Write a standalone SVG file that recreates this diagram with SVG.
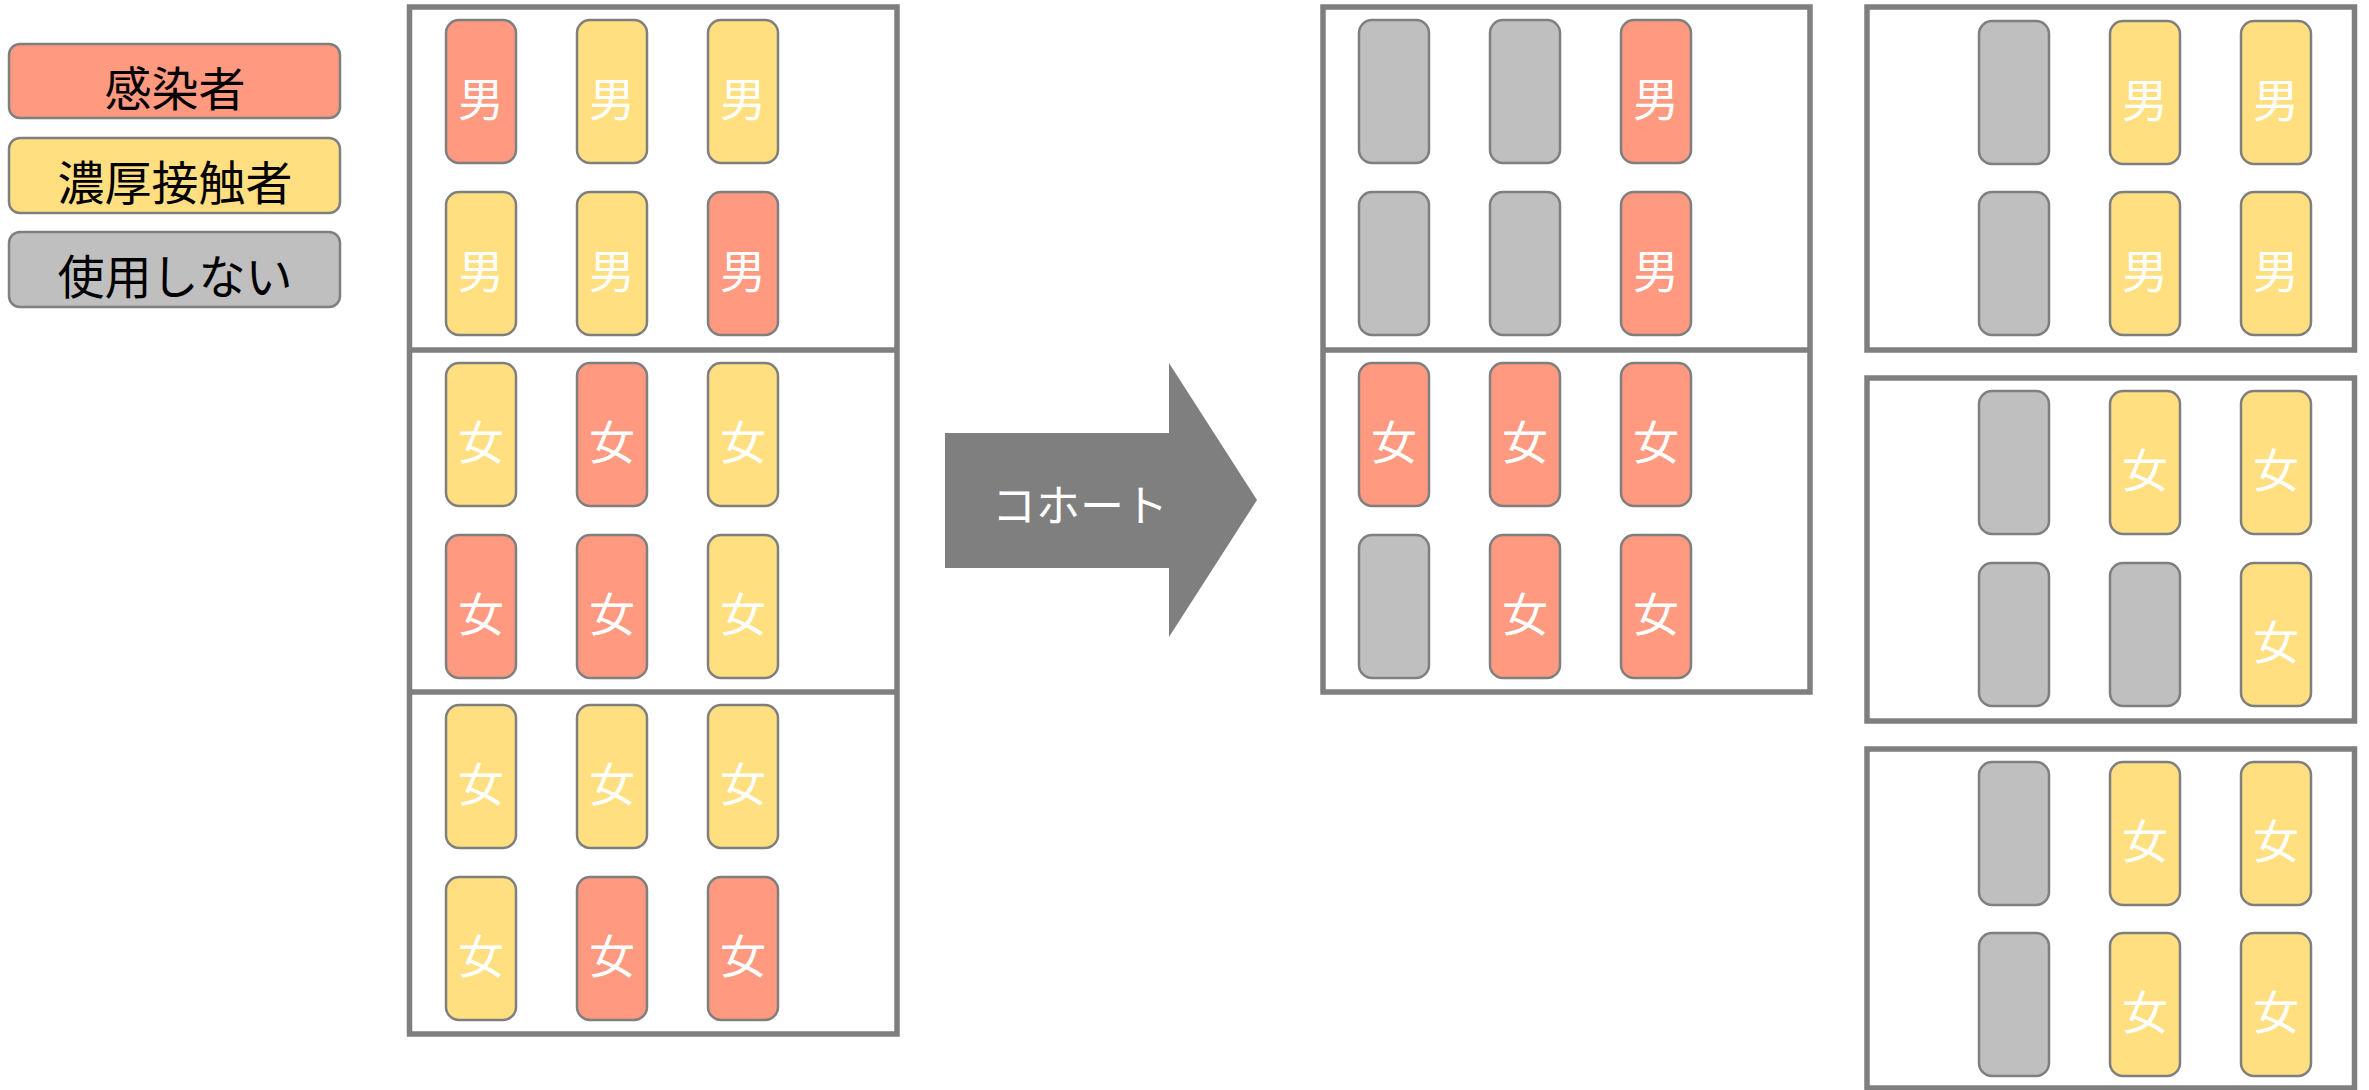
<svg xmlns="http://www.w3.org/2000/svg" width="2369" height="1090" viewBox="0 0 2369 1090">
<style>
.panel{fill:#ffffff;stroke:#7f7f7f;stroke-width:5.5}
.div{stroke:#7f7f7f;stroke-width:5.5}
.card{stroke:#7f7f7f;stroke-width:2.5}
.r{fill:#ff9980}
.y{fill:#ffdf80}
.g{fill:#bfbfbf}
.lbl{font-family:"Noto Sans CJK JP","Noto Sans",sans-serif;font-size:46px;fill:#ffffff;text-anchor:middle;dominant-baseline:central}
.leg{font-family:"Noto Sans CJK JP","Noto Sans",sans-serif;font-size:47px;fill:#000000;text-anchor:middle;dominant-baseline:central}
.arr{font-family:"Noto Sans CJK JP","Noto Sans",sans-serif;font-size:44px;fill:#ffffff;text-anchor:middle;dominant-baseline:central}
</style>
<defs>
<rect id="c" width="70" height="143" rx="13"/>
</defs>

<g id="legend">
<g id="legend-infected"><rect class="card r" x="9" y="44" width="331" height="74" rx="11"/><text class="leg" x="175" y="85">感染者</text></g>
<g id="legend-contact"><rect class="card y" x="9" y="138" width="331" height="75" rx="11"/><text class="leg" x="175" y="179">濃厚接触者</text></g>
<g id="legend-unused"><rect class="card g" x="9" y="232" width="331" height="75" rx="11"/><text class="leg" x="175" y="273">使用しない</text></g>
</g>

<g id="left-panel">
<rect class="panel" x="409.5" y="7" width="487.5" height="1027"/>
<line class="div" x1="409.5" y1="350" x2="897" y2="350"/>
<line class="div" x1="409.5" y1="692" x2="897" y2="692"/>
<g id="L1">
<use href="#c" class="card r" x="446" y="20"/><text class="lbl" x="481" y="96">男</text>
<use href="#c" class="card y" x="577" y="20"/><text class="lbl" x="612" y="96">男</text>
<use href="#c" class="card y" x="708" y="20"/><text class="lbl" x="743" y="96">男</text>
<use href="#c" class="card y" x="446" y="192"/><text class="lbl" x="481" y="268">男</text>
<use href="#c" class="card y" x="577" y="192"/><text class="lbl" x="612" y="268">男</text>
<use href="#c" class="card r" x="708" y="192"/><text class="lbl" x="743" y="268">男</text>
</g>
<g id="L2">
<use href="#c" class="card y" x="446" y="363"/><text class="lbl" x="481" y="439">女</text>
<use href="#c" class="card r" x="577" y="363"/><text class="lbl" x="612" y="439">女</text>
<use href="#c" class="card y" x="708" y="363"/><text class="lbl" x="743" y="439">女</text>
<use href="#c" class="card r" x="446" y="535"/><text class="lbl" x="481" y="611">女</text>
<use href="#c" class="card r" x="577" y="535"/><text class="lbl" x="612" y="611">女</text>
<use href="#c" class="card y" x="708" y="535"/><text class="lbl" x="743" y="611">女</text>
</g>
<g id="L3">
<use href="#c" class="card y" x="446" y="705"/><text class="lbl" x="481" y="781">女</text>
<use href="#c" class="card y" x="577" y="705"/><text class="lbl" x="612" y="781">女</text>
<use href="#c" class="card y" x="708" y="705"/><text class="lbl" x="743" y="781">女</text>
<use href="#c" class="card y" x="446" y="877"/><text class="lbl" x="481" y="953">女</text>
<use href="#c" class="card r" x="577" y="877"/><text class="lbl" x="612" y="953">女</text>
<use href="#c" class="card r" x="708" y="877"/><text class="lbl" x="743" y="953">女</text>
</g>
</g>

<g id="connectors">
<g id="cohort-arrow">
<polygon points="945,433 1169,433 1169,363 1257,500 1169,637 1169,568 945,568" fill="#7f7f7f"/>
<text class="arr" x="1080" y="503">コホート</text>
</g>
</g>

<g id="middle-panel">
<rect class="panel" x="1323" y="7" width="487" height="685"/>
<line class="div" x1="1323" y1="350" x2="1810" y2="350"/>
<g id="M1">
<use href="#c" class="card g" x="1359" y="20"/>
<use href="#c" class="card g" x="1490" y="20"/>
<use href="#c" class="card r" x="1621" y="20"/><text class="lbl" x="1656" y="96">男</text>
<use href="#c" class="card g" x="1359" y="192"/>
<use href="#c" class="card g" x="1490" y="192"/>
<use href="#c" class="card r" x="1621" y="192"/><text class="lbl" x="1656" y="268">男</text>
</g>
<g id="M2">
<use href="#c" class="card r" x="1359" y="363"/><text class="lbl" x="1394" y="439">女</text>
<use href="#c" class="card r" x="1490" y="363"/><text class="lbl" x="1525" y="439">女</text>
<use href="#c" class="card r" x="1621" y="363"/><text class="lbl" x="1656" y="439">女</text>
<use href="#c" class="card g" x="1359" y="535"/>
<use href="#c" class="card r" x="1490" y="535"/><text class="lbl" x="1525" y="611">女</text>
<use href="#c" class="card r" x="1621" y="535"/><text class="lbl" x="1656" y="611">女</text>
</g>
</g>

<g id="right-panel-1">
<rect class="panel" x="1867" y="7" width="487.5" height="343"/>
<use href="#c" class="card g" x="1979" y="21"/>
<use href="#c" class="card y" x="2110" y="21"/><text class="lbl" x="2145" y="97">男</text>
<use href="#c" class="card y" x="2241" y="21"/><text class="lbl" x="2276" y="97">男</text>
<use href="#c" class="card g" x="1979" y="192"/>
<use href="#c" class="card y" x="2110" y="192"/><text class="lbl" x="2145" y="268">男</text>
<use href="#c" class="card y" x="2241" y="192"/><text class="lbl" x="2276" y="268">男</text>
</g>

<g id="right-panel-2">
<rect class="panel" x="1867" y="378" width="487.5" height="343"/>
<use href="#c" class="card g" x="1979" y="391"/>
<use href="#c" class="card y" x="2110" y="391"/><text class="lbl" x="2145" y="467">女</text>
<use href="#c" class="card y" x="2241" y="391"/><text class="lbl" x="2276" y="467">女</text>
<use href="#c" class="card g" x="1979" y="563"/>
<use href="#c" class="card g" x="2110" y="563"/>
<use href="#c" class="card y" x="2241" y="563"/><text class="lbl" x="2276" y="639">女</text>
</g>

<g id="right-panel-3">
<rect class="panel" x="1867" y="749" width="487.5" height="339"/>
<use href="#c" class="card g" x="1979" y="762"/>
<use href="#c" class="card y" x="2110" y="762"/><text class="lbl" x="2145" y="838">女</text>
<use href="#c" class="card y" x="2241" y="762"/><text class="lbl" x="2276" y="838">女</text>
<use href="#c" class="card g" x="1979" y="933"/>
<use href="#c" class="card y" x="2110" y="933"/><text class="lbl" x="2145" y="1009">女</text>
<use href="#c" class="card y" x="2241" y="933"/><text class="lbl" x="2276" y="1009">女</text>
</g>
</svg>
